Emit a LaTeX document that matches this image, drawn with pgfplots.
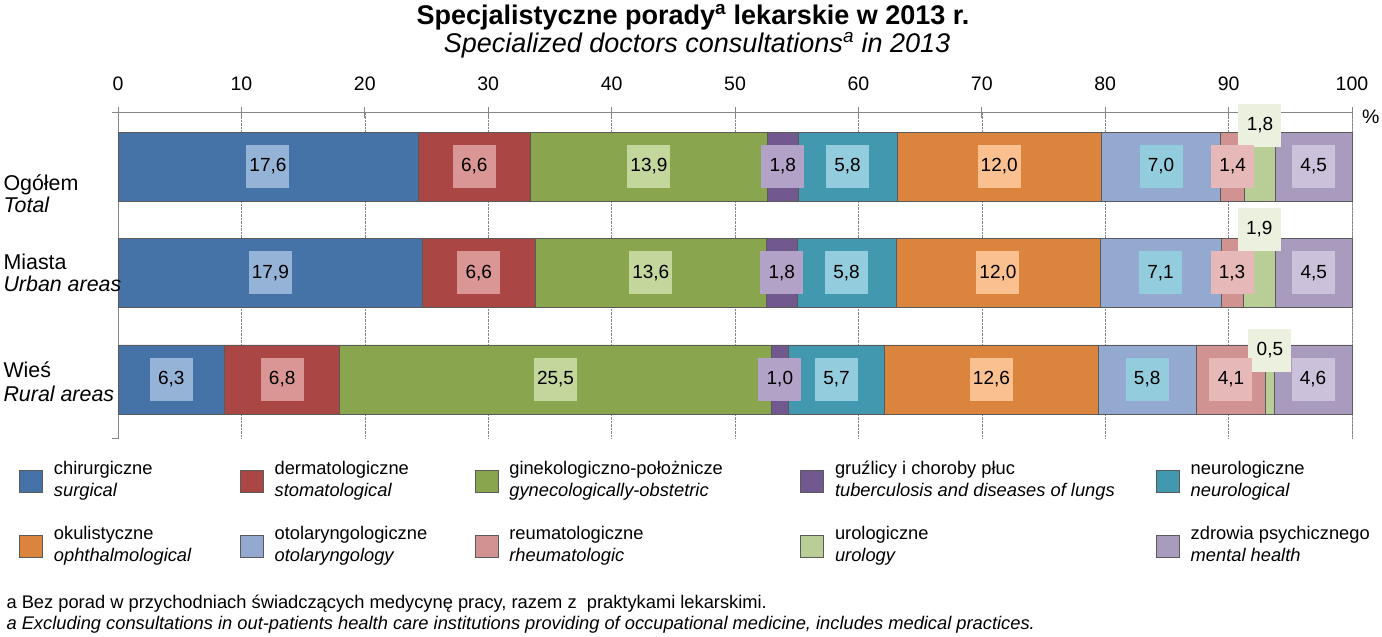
\documentclass[border=0pt]{standalone}
\usepackage{pgfplots}
\pgfplotsset{compat=1.18}
\usepackage{pgfplotstable}
\usepackage{fontspec}
\setmainfont{Liberation Sans}

\definecolor{csur}{HTML}{4572A7}
\definecolor{cder}{HTML}{AA4643}
\definecolor{cgin}{HTML}{89A54E}
\definecolor{cgru}{HTML}{71588F}
\definecolor{cneu}{HTML}{4198AF}
\definecolor{coku}{HTML}{DB843D}
\definecolor{coto}{HTML}{93A9CF}
\definecolor{creu}{HTML}{D19392}
\definecolor{curo}{HTML}{B9CD96}
\definecolor{czdr}{HTML}{A99BBD}
\definecolor{lsur}{HTML}{95B3D7}
\definecolor{lder}{HTML}{D99694}
\definecolor{lgin}{HTML}{C3D69B}
\definecolor{lgru}{HTML}{B3A2C7}
\definecolor{lneu}{HTML}{93CDDD}
\definecolor{loku}{HTML}{FAC090}
\definecolor{loto}{HTML}{93CDDD}
\definecolor{lreu}{HTML}{E6B9B8}
\definecolor{luro}{HTML}{EBF1DE}
\definecolor{lzdr}{HTML}{CCC1DA}
\definecolor{axgray}{HTML}{868686}
\definecolor{bargray}{HTML}{5A5A5A}

% y: 2 = Ogolem, 1 = Miasta, 0 = Wies; tot = row total; dy = offset of the urology label
\pgfplotstableread{
y tot  sur  der gin  gru neu oku  oto reu uro zdr dy
2 72.4 17.6 6.6 13.9 1.8 5.8 12.0 7.0 1.4 1.8 4.5 41
1 72.5 17.9 6.6 13.6 1.8 5.8 12.0 7.1 1.3 1.9 4.5 43.5
0 72.9 6.3  6.8 25.5 1.0 5.7 12.6 5.8 4.1 0.5 4.6 29
}\data

\newcommand{\lent}[3]{\makebox[#1][l]{\begin{tabular}{@{}l@{}}#2\\\textit{#3}\end{tabular}}}
\newcommand{\bars}[2]{\addplot[fill=#2] table[y=y, x expr={\thisrow{#1}*100/\thisrow{tot}}]{\data};}
\newcommand{\labs}[2]{\addplot[every node near coord/.append style={fill=#2}]
   table[y=y, x expr={\thisrow{#1}*100/\thisrow{tot}}, meta=#1]{\data};}

\pgfplotsset{
  base/.style={
    scale only axis, width=1234pt, height=326pt,
    at={(118pt,-112pt)}, anchor=north west,
    xmin=0, xmax=100, ymin=-0.55, ymax=2.512,
    xbar stacked, bar width=69pt, bar shift=0pt,
    clip=false,
    /pgf/number format/assume math mode=true,
  }
}

\begin{document}
\begin{tikzpicture}
\path[use as bounding box] (0pt,0pt) rectangle (1382pt,-637pt);

\node[anchor=base, font=\bfseries\fontsize{27}{30}\selectfont] at (693pt,-24pt)
  {Specjalistyczne porady\textsuperscript{a} lekarskie w 2013 r.};
\node[anchor=base, font=\itshape\fontsize{27}{30}\selectfont] at (697pt,-52pt)
  {Specialized doctors consultations\textsuperscript{a} in 2013};

\begin{axis}[base,
  axis x line*=top, axis y line*=left,
  axis line style={draw=axgray, line width=0.8pt},
  ytick=\empty,
  xtick={0,10,...,100},
  tick align=center, major tick length=11pt,
  tick style={draw=axgray, line width=0.8pt},
  xmajorgrids, grid style={draw=axgray, densely dotted, line width=0.6pt},
  xticklabel style={font=\fontsize{19.5}{20}\selectfont, anchor=base, yshift=16pt},
  every axis plot/.append style={draw=bargray, line width=0.7pt},
  legend columns=5, legend cell align=left,
  legend style={at={(axis description cs:-0.0802,-0.0644)}, anchor=north west,
    draw=none, fill=none, inner sep=0pt, column sep=0pt, row sep=32pt,
    font=\fontsize{18.3}{22}\selectfont, nodes={inner sep=0pt}},
  legend image code/.code={\draw[#1] (0pt,-19pt) rectangle (23pt,3pt); \path (34pt,0pt);},
]
\bars{sur}{csur}\addlegendentry{\lent{186pt}{chirurgiczne}{surgical}}
\bars{der}{cder}\addlegendentry{\lent{200pt}{dermatologiczne}{stomatological}}
\bars{gin}{cgin}\addlegendentry{\lent{291pt}{ginekologiczno-położnicze}{gynecologically-obstetric}}
\bars{gru}{cgru}\addlegendentry{\lent{321pt}{gruźlicy i choroby płuc}{tuberculosis and diseases of lungs}}
\bars{neu}{cneu}\addlegendentry{\lent{180pt}{neurologiczne}{neurological}}
\bars{oku}{coku}\addlegendentry{\lent{186pt}{okulistyczne}{ophthalmological}}
\bars{oto}{coto}\addlegendentry{\lent{200pt}{otolaryngologiczne}{otolaryngology}}
\bars{reu}{creu}\addlegendentry{\lent{291pt}{reumatologiczne}{rheumatologic}}
\bars{uro}{curo}\addlegendentry{\lent{321pt}{urologiczne}{urology}}
\bars{zdr}{czdr}\addlegendentry{\lent{180pt}{zdrowia psychicznego}{mental health}}
\draw[axgray, line width=0.8pt] (rel axis cs:1,0) -- (rel axis cs:1,1) -- ++(0pt,5.5pt);
\draw[axgray, line width=0.8pt] (rel axis cs:0,1) -- ++(-6pt,0pt);
\draw[axgray, line width=0.8pt] (rel axis cs:0,0) -- ++(-6pt,0pt);
\end{axis}

\begin{axis}[base, hide axis,
  every axis plot/.append style={draw=none, fill=none},
  point meta=explicit,
  nodes near coords={\pgfmathprintnumber[fixed,fixed zerofill,precision=1,use comma]{\pgfplotspointmeta}},
  every node near coord/.append style={anchor=center, inner sep=0pt,
    minimum width=43pt, minimum height=43pt, font=\fontsize{19}{19}\selectfont,
    text=black},
]
\labs{sur}{lsur}
\labs{der}{lder}
\labs{gin}{lgin}
\labs{gru}{lgru}
\labs{neu}{lneu}
\labs{oku}{loku}
\labs{oto}{loto}
\labs{reu}{lreu}
\addplot[visualization depends on={\thisrow{dy} \as \dy},
   every node near coord/.append style={fill=luro, yshift=\dy*1pt}]
   table[y=y, x expr={\thisrow{uro}*100/\thisrow{tot}}, meta=uro]{\data};
\labs{zdr}{lzdr}
\end{axis}

\node[anchor=base west, font=\fontsize{21.4}{24}\selectfont] at (0pt,-190pt) {Ogółem};
\node[anchor=base west, font=\itshape\fontsize{21.4}{24}\selectfont] at (0pt,-212pt) {Total};
\node[anchor=base west, font=\fontsize{21.4}{24}\selectfont] at (0pt,-269pt) {Miasta};
\node[anchor=base west, font=\itshape\fontsize{21.4}{24}\selectfont] at (0pt,-291pt) {Urban areas};
\node[anchor=base west, font=\fontsize{21.4}{24}\selectfont] at (0pt,-377pt) {Wieś};
\node[anchor=base west, font=\itshape\fontsize{21.4}{24}\selectfont] at (0pt,-401pt) {Rural areas};
\node[anchor=base west, font=\fontsize{19.5}{20}\selectfont, inner sep=0pt] at (1362pt,-123pt) {\%};

\node[anchor=base west, font=\fontsize{18.3}{21}\selectfont] at (3pt,-608pt)
  {a Bez porad w przychodniach świadczących medycynę pracy, razem z~ praktykami lekarskimi.};
\node[anchor=base west, font=\itshape\fontsize{18.3}{21}\selectfont] at (3pt,-629pt)
  {a Excluding consultations in out-patients health care institutions providing of occupational medicine, includes medical practices.};
\end{tikzpicture}
\end{document}
